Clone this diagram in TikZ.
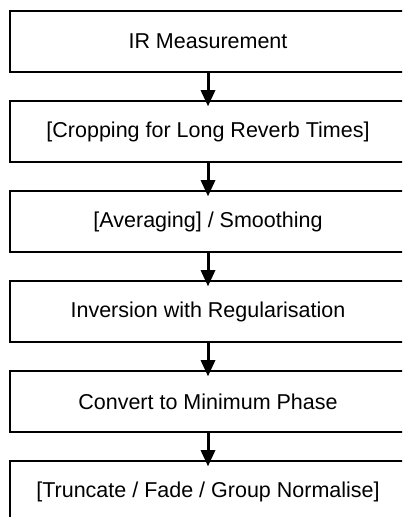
\documentclass[tikz,border=0pt]{standalone}
\usepackage{fontspec}
\setmainfont{Liberation Sans}
\usetikzlibrary{arrows.meta}
\begin{document}
\begin{tikzpicture}[x=1pt,y=-1pt,
  stage/.style={draw=black, line width=1.8pt, fill=white,
    minimum width=396pt, minimum height=61pt, inner sep=0pt,
    font=\fontsize{21.5}{24}\selectfont},
  flow/.style={line width=3pt,
    -{Triangle[length=16pt,width=15pt,line width=0pt]}}]
  \useasboundingbox (0,0) rectangle (402,517);
  \begin{scope}
    \clip (0,0) rectangle (402,517);
    \node[stage] (s1) at (208,41.5)  {IR Measurement};
    \node[stage] (s2) at (208,131.5) {[Cropping for Long Reverb Times]};
    \node[stage] (s3) at (208,221.5) {[Averaging] / Smoothing};
    \node[stage] (s4) at (208,311.5) {Inversion with Regularisation};
    \node[stage] (s5) at (208,401.5) {Convert to Minimum Phase};
    \node[stage] (s6) at (208,491.5) {[Truncate / Fade / Group Normalise]};
    \foreach \a/\b in {s1/s2,s2/s3,s3/s4,s4/s5,s5/s6}
      \draw[flow] (\a.south) -- ([yshift=-6pt]\b.north);
  \end{scope}
\end{tikzpicture}
\end{document}
